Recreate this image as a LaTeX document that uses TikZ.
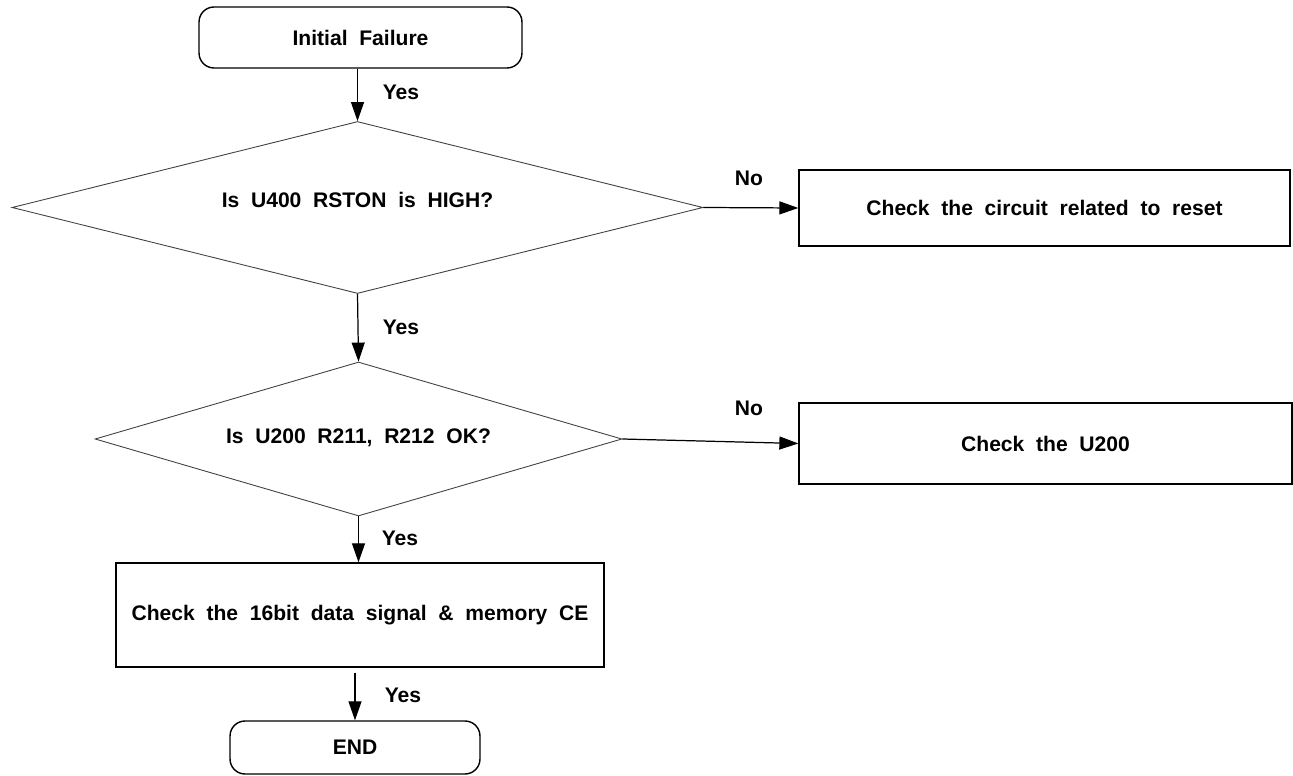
\documentclass[tikz,border=0pt]{standalone}
\usepackage{fontspec}
\setmainfont{Liberation Sans}[WordSpace=2]
\usetikzlibrary{shapes.geometric,arrows.meta,positioning}

\begin{document}
\begin{tikzpicture}[x=0.02cm, y=-0.02cm,
  font=\fontsize{12}{14}\selectfont\bfseries,
  term/.style={draw, line width=0.8pt, rounded corners=0.3cm, inner sep=0pt},
  proc/.style={draw, line width=0.8pt, inner sep=0pt},
  dec/.style={diamond, draw=black!75, line width=0.5pt, inner sep=0pt},
  flow/.style={line width=0.7pt, -{Triangle[length=0.38cm, width=0.26cm]}}]
  \useasboundingbox (0, 0) rectangle (1293, 776);

  \node[term, minimum width=6.46cm, minimum height=1.22cm] (init) at (360.5, 37.5) {Initial Failure};
  \node[dec, minimum width=13.82cm, minimum height=3.44cm] (d1) at (357.5, 207.5) {};
  \node (d1txt) at (357.5, 200) {Is U400 RSTON is HIGH?};
  \node[proc, minimum width=9.82cm, minimum height=1.52cm] (reset) at (1044.5, 208) {Check the circuit related to reset};
  \node[dec, minimum width=10.54cm, minimum height=3.08cm] (d2) at (358.5, 439) {};
  \node (d2txt) at (358.5, 438) {Is U200 R211, R212 OK?};
  \node[proc, minimum width=9.86cm, minimum height=1.62cm] (u200) at (1045.5, 443.5) {Check the U200};
  \node[proc, minimum width=9.76cm, minimum height=2.08cm] (chk) at (360, 615) {Check the 16bit data signal \& memory CE};
  \node[term, minimum width=5cm, minimum height=1.06cm] (end) at (355, 747.5) {END};

  \draw[flow] (d1.north |- init.south) -- (d1.north);
  \draw[flow] (d1.east) -- (reset.west);
  \draw[flow] (d1.south) -- (d2.north);
  \draw[flow] (d2.east) -- (u200.west);
  \draw[flow] (d2.south) -- (d2.south |- chk.north);
  \draw[flow] ([yshift=-0.1cm]end.north |- chk.south) -- (end.north);

  \node (yes1) at (401, 92) {Yes};
  \node (no1) at (749, 178) {No};
  \node (yes2) at (401, 327) {Yes};
  \node (no2) at (749, 408) {No};
  \node (yes3) at (400, 538) {Yes};
  \node (yes4) at (403, 695) {Yes};
\end{tikzpicture}
\end{document}
